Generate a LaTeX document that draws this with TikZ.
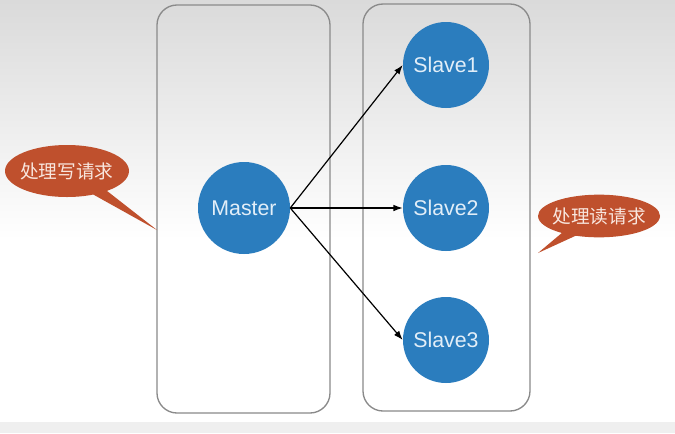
\documentclass[tikz,border=0pt]{standalone}
\usepackage{fontspec}
\setmainfont{Liberation Sans}
\newfontfamily\cjk{Noto Sans CJK SC}
\usetikzlibrary{arrows.meta,positioning,shapes.callouts}
\definecolor{NodeBlue}{HTML}{2B7DBE}
\definecolor{NodeText}{HTML}{E2EEF8}
\definecolor{CallRed}{HTML}{BF502D}
\definecolor{CallText}{HTML}{F8E6DE}
\definecolor{BoxGray}{HTML}{8A8A8A}
\definecolor{BgTop}{HTML}{DADADA}
\definecolor{BgBand}{HTML}{EFEFEF}
\tikzset{
  server/.style={circle,fill=NodeBlue,text=NodeText,inner sep=0pt,font=\fontsize{16}{18}\selectfont},
  group/.style={draw=BoxGray,line width=1pt,rounded corners=15pt},
  link/.style={-{Latex[length=7pt,width=5pt]},line width=0.9pt},
  bubble/.style={ellipse callout,fill=CallRed,text=CallText,inner sep=0pt,font=\cjk\fontsize{14}{16}\selectfont}
}
\begin{document}
\begin{tikzpicture}[x=0.75pt,y=-0.75pt]
  \useasboundingbox (0,0) rectangle (675,433);
  % background
  \shade[top color=BgTop,bottom color=white] (0,0) rectangle (675,240);
  \fill[white] (0,240) rectangle (675,422);
  \fill[BgBand] (0,422) rectangle (675,433);
  % groups
  \draw[group] (157,5) rectangle (330,413);
  \draw[group] (363,4) rectangle (530,411);
  % nodes
  \node[server,minimum size=69pt] (master) at (244,208) {Master};
  \node[server,minimum size=64.5pt] (slave1) at (446,65) {Slave1};
  \node[server,minimum size=64.5pt] (slave2) at (446,208) {Slave2};
  \node[server,minimum size=64.5pt] (slave3) at (446,340) {Slave3};
  \draw[link] (master.east) -- (slave1.west);
  \draw[link] (master.east) -- (slave2.west);
  \draw[link] (master.east) -- (slave3.west);
  % callouts
  \coordinate (writetip) at (157,230);
  \coordinate (readtip) at (538,253);
  \node[bubble,minimum width=93pt,minimum height=39pt,callout absolute pointer=(writetip)] (write) at (67,171) {\makebox[40pt]{处理写请求}};
  \node[bubble,minimum width=91.5pt,minimum height=32pt,callout absolute pointer=(readtip)] (read) at (599,216) {\makebox[40pt]{处理读请求}};
\end{tikzpicture}
\end{document}
